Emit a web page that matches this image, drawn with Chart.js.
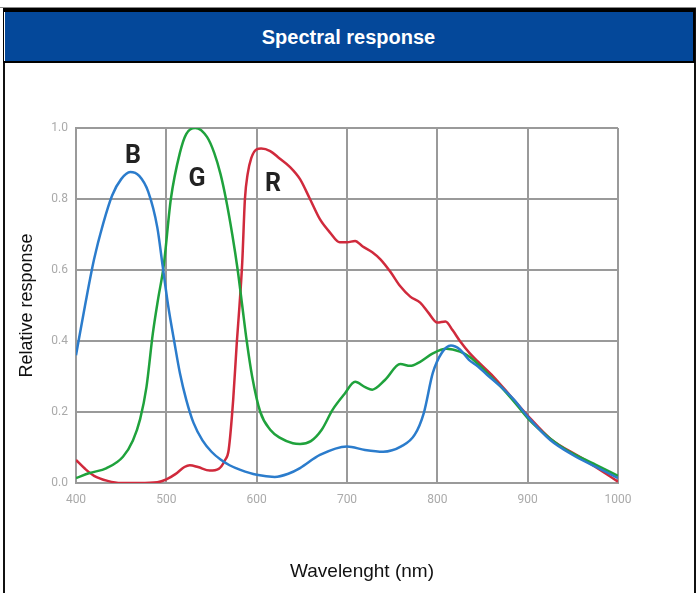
<!DOCTYPE html>
<html>
<head>
<meta charset="utf-8">
<script src="https://cdn.jsdelivr.net/npm/chart.js@4"></script>
<style>
  html, body { margin: 0; padding: 0; background: #fff; }
  body { width: 696px; height: 593px; position: relative; overflow: hidden; }
  .topline { position: absolute; left: 0; top: 7px; width: 696px; height: 1px; background: #888; }
  .frame { position: absolute; left: 3px; top: 8px; width: 689px; height: 600px;
           border-left: 2px solid #111; border-right: 2px solid #111; }
  .header { position: absolute; left: 3px; top: 8px; width: 689px; height: 49px;
            background: #04489a; border-top: 4px solid #000; border-bottom: 2px solid #000;
            border-left: 1px solid #000; border-right: 2px solid #000;
            box-shadow: inset 1px 0 0 #fff;
            color: #fff; font: bold 20px "Liberation Sans", Arial, sans-serif;
            text-align: center; line-height: 50px; z-index: 2; }
  .xtitle { position: absolute; left: 262px; width: 200px; top: 559px; text-align: center;
            font: 19px "Liberation Sans", Arial, sans-serif; color: #111; line-height: 24px; }
  #chart { position: absolute; left: 0; top: 0; }
</style>
</head>
<body>
<div class="topline"></div>
<div class="frame"></div>
<div class="header">Spectral response</div>
<canvas id="chart" width="696" height="593"></canvas>
<div class="xtitle">Wavelenght (nm)</div>
<script>
const xTicks = [400, 500, 600, 700, 800, 900, 1000];
const yTicks = [0, 0.2, 0.4, 0.6, 0.8, 1.0];

const blueNm  = [400, 410, 420, 430, 440, 450, 460, 470, 480, 490, 496, 502, 509, 515, 522, 530, 540, 550, 560, 570, 582, 600, 620, 635, 648, 670, 700, 720, 740, 760, 775, 785, 795, 805, 815, 825, 835, 845, 855, 870, 885, 900, 925, 950, 975, 1000];
const blueVal = [0.36, 0.50, 0.63, 0.73, 0.81, 0.856, 0.876, 0.865, 0.82, 0.72, 0.61, 0.50, 0.395, 0.31, 0.235, 0.17, 0.12, 0.088, 0.066, 0.05, 0.037, 0.023, 0.017, 0.026, 0.042, 0.079, 0.103, 0.093, 0.088, 0.103, 0.136, 0.197, 0.31, 0.367, 0.387, 0.376, 0.347, 0.328, 0.305, 0.272, 0.234, 0.187, 0.121, 0.079, 0.046, 0.014];

const greenNm  = [400, 415, 434, 452, 463, 471, 478, 485, 491, 497, 505, 515, 522, 532, 545, 553, 560, 566, 573, 579, 584, 589, 595, 604, 615, 626, 640, 648, 660, 672, 684, 697, 709, 720, 728, 742, 759, 770, 780, 795, 810, 825, 836, 855, 870, 888, 900, 925, 943, 975, 1000];
const greenVal = [0.014, 0.028, 0.042, 0.074, 0.12, 0.18, 0.27, 0.42, 0.52, 0.61, 0.8, 0.93, 0.983, 1.0, 0.975, 0.93, 0.87, 0.8, 0.7, 0.6, 0.5, 0.4, 0.3, 0.2, 0.15, 0.127, 0.112, 0.11, 0.118, 0.15, 0.206, 0.25, 0.285, 0.27, 0.263, 0.29, 0.335, 0.33, 0.34, 0.365, 0.378, 0.37, 0.355, 0.31, 0.272, 0.22, 0.183, 0.125, 0.093, 0.052, 0.02];

const redNm  = [400, 410, 420, 435, 450, 470, 490, 500, 510, 520, 526, 535, 548, 558, 565, 569, 574, 578, 581, 584, 587, 590, 594, 600, 605, 615, 625, 637, 648, 659, 670, 681, 692, 700, 709, 717, 728, 737, 748, 759, 770, 781, 790, 800, 809, 817, 825, 836, 847, 862, 881, 900, 925, 960, 1000];
const redVal = [0.065, 0.04, 0.02, 0.006, 0.0, 0.0, 0.002, 0.01, 0.025, 0.045, 0.05, 0.045, 0.035, 0.04, 0.065, 0.093, 0.234, 0.395, 0.5, 0.62, 0.8, 0.87, 0.915, 0.94, 0.942, 0.935, 0.915, 0.89, 0.856, 0.80, 0.743, 0.706, 0.678, 0.678, 0.682, 0.667, 0.65, 0.63, 0.595, 0.554, 0.525, 0.508, 0.48, 0.452, 0.455, 0.43, 0.40, 0.365, 0.337, 0.30, 0.245, 0.19, 0.125, 0.07, 0.004];

const curveNames = ['B', 'G', 'R'];
const curveColors = ['#2b7ccc', '#1fa23c', '#d02a3c'];
const labelNm  = [463, 534, 618];
const labelVal = [0.918, 0.853, 0.839];

const toPoints = (xs, ys) => xs.map((x, i) => ({ x, y: ys[i] }));

const curveLabels = {
  id: 'curveLabels',
  afterDatasetsDraw(chart) {
    const { ctx, scales } = chart;
    ctx.save();
    ctx.font = 'bold 25px Roboto, sans-serif';
    ctx.fillStyle = '#222';
    ctx.textAlign = 'center';
    ctx.textBaseline = 'middle';
    curveNames.forEach((n, i) => {
      ctx.fillText(n, scales.x.getPixelForValue(labelNm[i]), scales.y.getPixelForValue(labelVal[i]));
    });
    ctx.restore();
  },
};

const tickFont = { family: 'Roboto, sans-serif', size: 12 };
const titleFont = { family: '"Liberation Sans", Arial, sans-serif', size: 18 };

new Chart(document.getElementById('chart').getContext('2d'), {
  type: 'line',
  data: {
    datasets: [
      { label: 'B', data: toPoints(blueNm, blueVal), borderColor: curveColors[0] },
      { label: 'G', data: toPoints(greenNm, greenVal), borderColor: curveColors[1] },
      { label: 'R', data: toPoints(redNm, redVal), borderColor: curveColors[2] },
    ],
  },
  options: {
    responsive: false,
    animation: false,
    events: [],
    layout: { padding: { top: 128, right: 78, left: 0, bottom: 0 } },
    elements: {
      line: { borderWidth: 2.5, cubicInterpolationMode: 'monotone' },
      point: { radius: 0 },
    },
    plugins: { legend: { display: false }, tooltip: { enabled: false } },
    scales: {
      x: {
        type: 'linear',
        min: 400,
        max: 1000,
        afterBuildTicks: (s) => { s.ticks = xTicks.map((v) => ({ value: v })); },
        afterFit: (s) => { s.height = 110; },
        grid: { color: '#9a9a9a', lineWidth: 2, drawTicks: false },
        border: { color: '#9a9a9a', width: 2 },
        ticks: { color: '#aaa', font: tickFont, padding: 10, maxRotation: 0, callback: (v) => String(v) },
      },
      y: {
        min: 0,
        max: 1,
        afterBuildTicks: (s) => { s.ticks = yTicks.map((v) => ({ value: v })); },
        afterFit: (s) => { s.width = 76; },
        grid: { color: '#9a9a9a', lineWidth: 2, drawTicks: false },
        border: { color: '#9a9a9a', width: 2 },
        ticks: { color: '#aaa', font: tickFont, padding: 8, callback: (v) => v.toFixed(1) },
        title: { display: true, text: 'Relative response', color: '#111', font: titleFont, padding: { top: 16, bottom: 0 } },
      },
    },
  },
  plugins: [curveLabels],
});
</script>
</body>
</html>
